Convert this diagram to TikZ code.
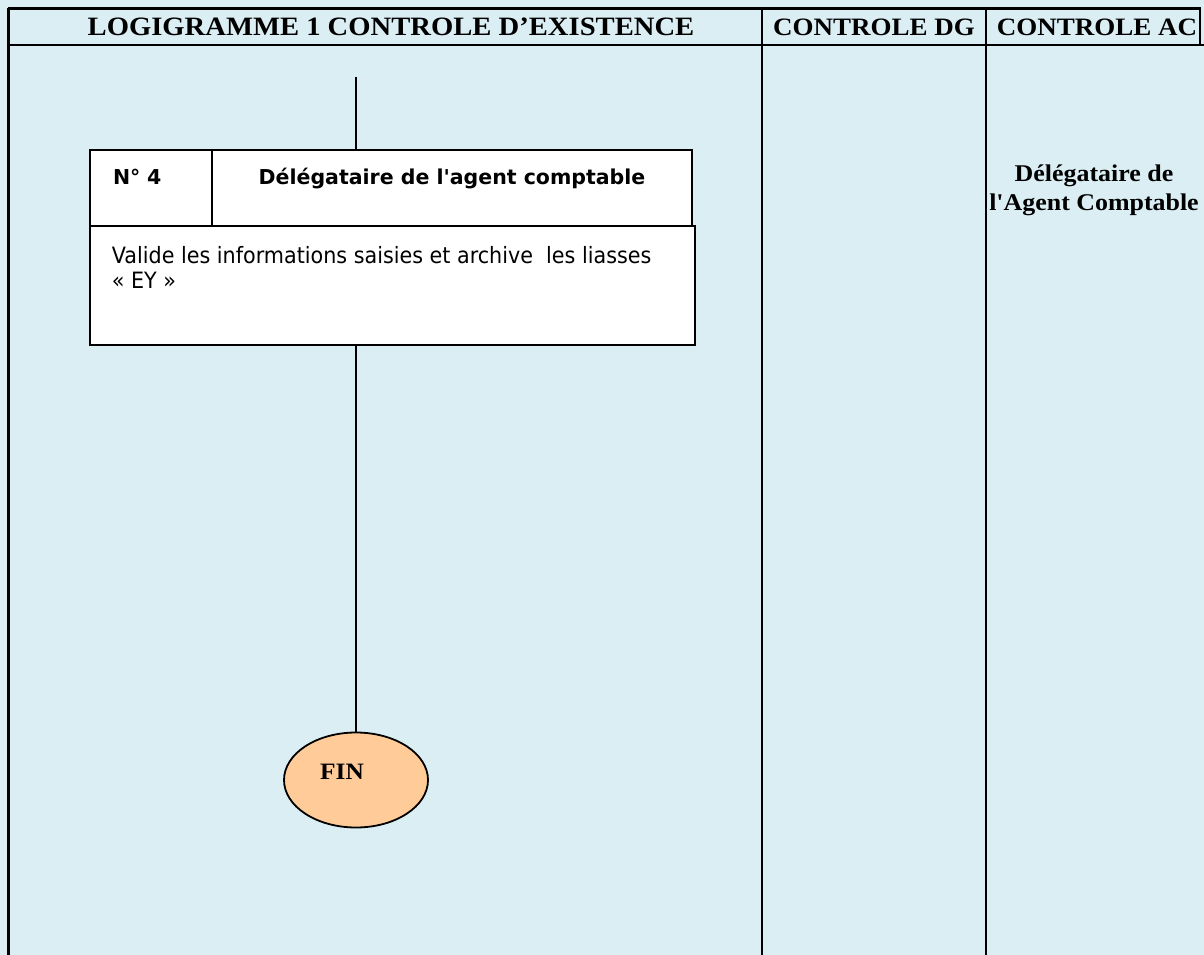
\documentclass[tikz,border=0pt]{standalone}
\usepackage{fontspec}
\newfontfamily\romain{Liberation Serif}[FakeStretch=1.08]
\newfontfamily\tahoma{DejaVu Sans}[FakeStretch=0.92]
\newfontfamily\tahomagras{DejaVu Sans Bold}
\usetikzlibrary{shapes.geometric}

\definecolor{fondbleu}{RGB}{218,238,243}
\definecolor{peche}{RGB}{255,204,153}

\tikzstyle{cadre} = [
	draw = black,
	line width = 2.8pt
	]
\tikzstyle{entete} = [
	font = \romain\bfseries\fontsize{25}{30}\selectfont
	]
\tikzstyle{cellule} = [
	draw = black,
	fill = white,
	line width = 1.8pt,
	inner sep = 0pt,
	text height = 34.5pt,
	text depth = 41.5pt,
	font = \tahomagras\fontsize{20.5}{24}\selectfont
	]

\begin{document}
\begin{tikzpicture}[
	x = 1pt,
	y = -1pt,
	every node/.style = {
	inner sep = 0pt
	},
	tache/.style = {
	draw = black,
	fill = white,
	line width = 1.8pt,
	minimum width = 605pt,
	minimum height = 119pt
	},
	consigne/.style = {
	align = left,
	font = \tahoma\fontsize{22.5}{25}\selectfont
	},
	fin/.style = {
	draw = black,
	fill = peche,
	ellipse,
	line width = 1.8pt,
	minimum width = 144pt,
	minimum height = 95pt
	},
	every path/.style = {
	line width = 1.8pt
	}
	]

			   \useasboundingbox (0,0) rectangle (1204,955);
			   \fill[fondbleu] (0,0) rectangle (1204,955);

			   \draw[cadre] (8,8.5) -- (1200,8.5) -- (1200,45);
			   \draw[cadre] (8,45) -- (1204,45);
			   \draw[cadre] (8.5,8) -- (8.5,955);
			   \draw[cadre] (762,8) -- (762,955);
			   \draw[cadre] (986,8) -- (986,955);

			   \node[entete, font=\romain\bfseries\fontsize{26.5}{30}\selectfont] (logigramme) at (391,27) {LOGIGRAMME 1 CONTROLE D’EXISTENCE};
			   \node[entete] (controledg) at (874,27) {CONTROLE DG};
			   \node[entete] (controleac) at (1097,27) {CONTROLE AC};

			   \node[cellule, inner xsep=23pt, text width=76pt, align=left] (numero) at (151,188) {N° 4};
			   \node[cellule, minimum width=480pt] (titre) at (452,188) {Délégataire de l'agent comptable};
			   \node[tache] (tache) at (392.5,285.5) {};
			   \node[consigne, anchor=north west] (texte) at (111,246) {Valide les informations saisies et archive\ \ les liasses\\« EY »};

			   \node[fin] (fin) at (356,780) {};
			   \node[font=\romain\bfseries\fontsize{23.5}{26}\selectfont] (fintexte) at (342,772) {FIN};

			   \node[align=center, font=\romain\bfseries\fontsize{24}{29}\selectfont] (acteur) at (1094,190) {Délégataire de\\l'Agent Comptable};

			   \coordinate (depart) at (356,77);
			   \draw (depart) -- (depart |- titre.north);
			   \draw (fin.north |- tache.south) -- (fin.north);
		   \end{tikzpicture}
\end{document}
